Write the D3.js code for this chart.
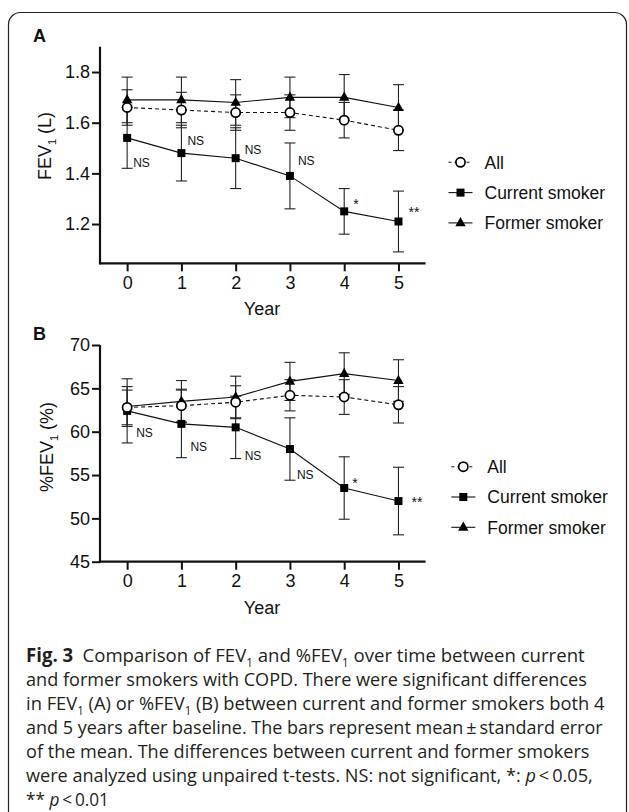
<!DOCTYPE html>
<html><head><meta charset="utf-8">
<script src="https://cdn.jsdelivr.net/npm/d3@7"></script>
<style>body{margin:0;background:#fff}svg{display:block}</style>
</head><body>
<svg id="c" width="629" height="812"></svg>
<script>
// ---------- data ----------
const years = [0, 1, 2, 3, 4, 5];
const seriesNames = ["All", "Current smoker", "Former smoker"];

const fevAll = [1.66, 1.65, 1.64, 1.64, 1.61, 1.57];
const fevAllErr = [0.07, 0.07, 0.07, 0.07, 0.07, 0.08];
const fevCurrent = [1.54, 1.48, 1.46, 1.39, 1.25, 1.21];
const fevCurrentErr = [0.12, 0.11, 0.12, 0.13, 0.09, 0.12];
const fevFormer = [1.69, 1.69, 1.68, 1.70, 1.70, 1.66];
const fevFormerErr = [0.09, 0.09, 0.09, 0.08, 0.09, 0.09];
const fevTicks = [1.2, 1.4, 1.6, 1.8];

const pctAll = [62.8, 63.0, 63.4, 64.2, 64.0, 63.1];
const pctAllErr = [2.0, 1.9, 1.9, 1.8, 2.0, 2.1];
const pctCurrent = [62.4, 60.9, 60.5, 58.0, 53.5, 52.0];
const pctCurrentErr = [3.7, 3.9, 3.6, 3.6, 3.6, 3.9];
const pctFormer = [62.9, 63.5, 64.0, 65.8, 66.7, 65.9];
const pctFormerErr = [2.3, 2.4, 2.4, 2.2, 2.4, 2.4];
const pctTicks = [45, 50, 55, 60, 65, 70];

const significance = ["NS", "NS", "NS", "NS", "*", "**"];

// ---------- drawing ----------
const svg = d3.select("#c");
const FONT = "'Liberation Sans', Arial, Helvetica, sans-serif";
const INK = "#111";

svg.append("rect").attr("x", 8.5).attr("y", 12.5).attr("width", 618).attr("height", 812)
  .attr("rx", 12).attr("fill", "none").attr("stroke", "#222").attr("stroke-width", 1.2);

function addSubText(sel, parts, baseSize) {
  let pending = 0;
  parts.forEach(p => {
    const ts = sel.append("tspan").text(p.t);
    if (p.sub) {
      ts.attr("dy", baseSize * 0.28 + pending).attr("font-size", baseSize * 0.62);
      pending = -baseSize * 0.28;
    } else {
      if (pending) ts.attr("dy", pending);
      pending = 0;
      if (p.b) ts.attr("font-weight", "bold");
      if (p.i) ts.attr("font-style", "italic");
    }
  });
}

function panel(cfg) {
  const g = svg.append("g");
  const x = d3.scaleLinear().domain([-0.5, 5.5]).range([100, 425.6]);
  const y = d3.scaleLinear().domain(cfg.domain).range(cfg.range);

  const yAxis = d3.axisLeft(y).tickValues(cfg.ticks).tickSize(8).tickPadding(2).tickFormat(cfg.fmt);
  const ya = g.append("g").attr("transform", `translate(100,0)`).call(yAxis);
  const xAxis = d3.axisBottom(x).tickValues(years).tickSize(8).tickPadding(5).tickFormat(d3.format("d"));
  const xa = g.append("g").attr("transform", `translate(0,${cfg.range[0]})`).call(xAxis);
  [ya, xa].forEach(a => {
    a.select(".domain").remove();
    a.selectAll(".tick line").attr("stroke", INK).attr("stroke-width", 2);
    a.selectAll(".tick text").attr("fill", INK).attr("font-family", FONT).attr("font-size", 18);
  });
  g.append("line").attr("x1", 100).attr("x2", 100).attr("y1", cfg.range[1]).attr("y2", cfg.range[0] + 1)
    .attr("stroke", INK).attr("stroke-width", 2.2);
  g.append("line").attr("x1", 99).attr("x2", 425.6).attr("y1", cfg.range[0]).attr("y2", cfg.range[0])
    .attr("stroke", INK).attr("stroke-width", 2.2);

  g.append("text").attr("x", 262).attr("y", cfg.range[0] + 52).attr("text-anchor", "middle")
    .attr("font-family", FONT).attr("font-size", 18).attr("fill", INK).text("Year");
  const yt = g.append("text").attr("transform", `translate(${cfg.ytX},${cfg.ytY}) rotate(-90)`)
    .attr("text-anchor", "middle").attr("font-family", FONT).attr("font-size", 18).attr("fill", INK);
  addSubText(yt, cfg.ytitle, 18);
  g.append("text").attr("x", 33).attr("y", cfg.labelY).attr("font-family", FONT).attr("font-weight", "bold")
    .attr("font-size", 18).attr("fill", INK).text(cfg.label);

  const series = [
    { name: seriesNames[2], v: cfg.former, e: cfg.formerErr, dash: null, sym: "tri" },
    { name: seriesNames[1], v: cfg.current, e: cfg.currentErr, dash: null, sym: "sq" },
    { name: seriesNames[0], v: cfg.all, e: cfg.allErr, dash: "4,3", sym: "circ" }
  ];
  const line = d3.line().x((d, i) => x(years[i])).y(d => y(d));

  function symbol(sel, type) {
    if (type === "sq") sel.append("rect").attr("x", -4).attr("y", -4).attr("width", 8).attr("height", 8).attr("fill", "#000");
    else if (type === "tri") sel.append("path").attr("d", "M0,-5.8L5.2,3.4L-5.2,3.4Z").attr("fill", "#000");
    else sel.append("circle").attr("r", 4.6).attr("fill", "#fff").attr("stroke", "#000").attr("stroke-width", 1.7);
  }

  series.forEach(s => {
    const eb = g.append("g").attr("stroke", "#222").attr("stroke-width", 1.1);
    s.v.forEach((v, i) => {
      const cx = x(years[i]), hi = y(v + s.e[i]), lo = y(v - s.e[i]);
      eb.append("line").attr("x1", cx).attr("x2", cx).attr("y1", hi).attr("y2", lo);
      eb.append("line").attr("x1", cx - 5.5).attr("x2", cx + 5.5).attr("y1", hi).attr("y2", hi);
      eb.append("line").attr("x1", cx - 5.5).attr("x2", cx + 5.5).attr("y1", lo).attr("y2", lo);
    });
  });
  series.forEach(s => {
    g.append("path").attr("d", line(s.v)).attr("fill", "none").attr("stroke", "#111")
      .attr("stroke-width", 1.1).attr("stroke-dasharray", s.dash);
  });
  series.forEach(s => {
    s.v.forEach((v, i) => {
      symbol(g.append("g").attr("transform", `translate(${x(years[i])},${y(v)})`), s.sym);
    });
  });

  significance.forEach((t, i) => {
    const off = cfg.sigOff[i];
    g.append("text").attr("x", x(years[i]) + off[0]).attr("y", y(cfg.current[i]) + off[1])
      .attr("font-family", FONT).attr("font-size", t === "NS" ? 12 : 14).attr("fill", INK).text(t);
  });

  const order = [
    { name: seriesNames[0], sym: "circ", dash: "4,3" },
    { name: seriesNames[1], sym: "sq", dash: null },
    { name: seriesNames[2], sym: "tri", dash: null }
  ];
  order.forEach((o, k) => {
    const ly = cfg.legY + k * 30.3;
    const lg = g.append("g").attr("transform", `translate(${cfg.legX},${ly})`);
    lg.append("line").attr("x1", -12).attr("x2", 12).attr("stroke", "#111").attr("stroke-width", 1.1)
      .attr("stroke-dasharray", o.dash ? "3,3" : null);
    symbol(lg, o.sym);
    lg.append("text").attr("x", 24).attr("y", 6.3).attr("font-family", FONT).attr("font-size", 17.5)
      .attr("fill", INK).text(o.name);
  });
}

panel({
  domain: [1.045, 1.9], range: [263.3, 46.7], ticks: fevTicks, fmt: d3.format(".1f"),
  all: fevAll, allErr: fevAllErr, current: fevCurrent, currentErr: fevCurrentErr,
  former: fevFormer, formerErr: fevFormerErr,
  ytitle: [{ t: "FEV" }, { t: "1", sub: true }, { t: " (L)" }], ytX: 51, ytY: 146,
  label: "A", labelY: 42,
  sigOff: [[6, 29], [6, -8], [9, -4], [8, -11], [9, -2], [10, -5]],
  legX: 460.5, legY: 162.3
});
panel({
  domain: [45, 70], range: [561.7, 345], ticks: pctTicks, fmt: d3.format("d"),
  all: pctAll, allErr: pctAllErr, current: pctCurrent, currentErr: pctCurrentErr,
  former: pctFormer, formerErr: pctFormerErr,
  ytitle: [{ t: "%FEV" }, { t: "1", sub: true }, { t: " (%)" }], ytX: 53, ytY: 447,
  label: "B", labelY: 340,
  sigOff: [[9, 26], [9, 27], [9, 33], [7, 30], [8, 0], [13, 6]],
  legX: 463.3, legY: 466.7
});

// ---------- caption ----------
const CAP = "'Open Sans', 'Noto Sans', sans-serif";
const capLines = [
  { w: 559, parts: [{ t: "Fig. 3", b: true }, { t: "\u2002Comparison of FEV" }, { t: "1", sub: true }, { t: " and %FEV" }, { t: "1", sub: true }, { t: " over time between current" }] },
  { w: 561, parts: [{ t: "and former smokers with COPD. There were significant differences" }] },
  { w: 579, parts: [{ t: "in FEV" }, { t: "1", sub: true }, { t: " (A) or %FEV" }, { t: "1", sub: true }, { t: " (B) between current and former smokers both 4" }] },
  { w: 577, parts: [{ t: "and 5 years after baseline. The bars represent mean\u2009\u00b1\u2009standard error" }] },
  { w: 564, parts: [{ t: "of the mean. The differences between current and former smokers" }] },
  { w: 567, parts: [{ t: "were analyzed using unpaired t-tests. NS: not significant, *: " }, { t: "p", i: true }, { t: "\u2009<\u20090.05," }] },
  { w: 83, parts: [{ t: "** " }, { t: "p", i: true }, { t: "\u2009<\u20090.01" }] }
];
capLines.forEach((ln, k) => {
  const g = svg.append("g");
  const t = g.append("text").attr("x", 0).attr("y", 0).attr("font-family", CAP).attr("font-size", 19)
    .attr("fill", "#231f20");
  addSubText(t, ln.parts, 19);
  const nat = t.node().getComputedTextLength();
  const s = ln.w / nat;
  g.attr("transform", `translate(26,${662 + k * 24}) scale(${s},1)`);
});
</script>
</body></html>
